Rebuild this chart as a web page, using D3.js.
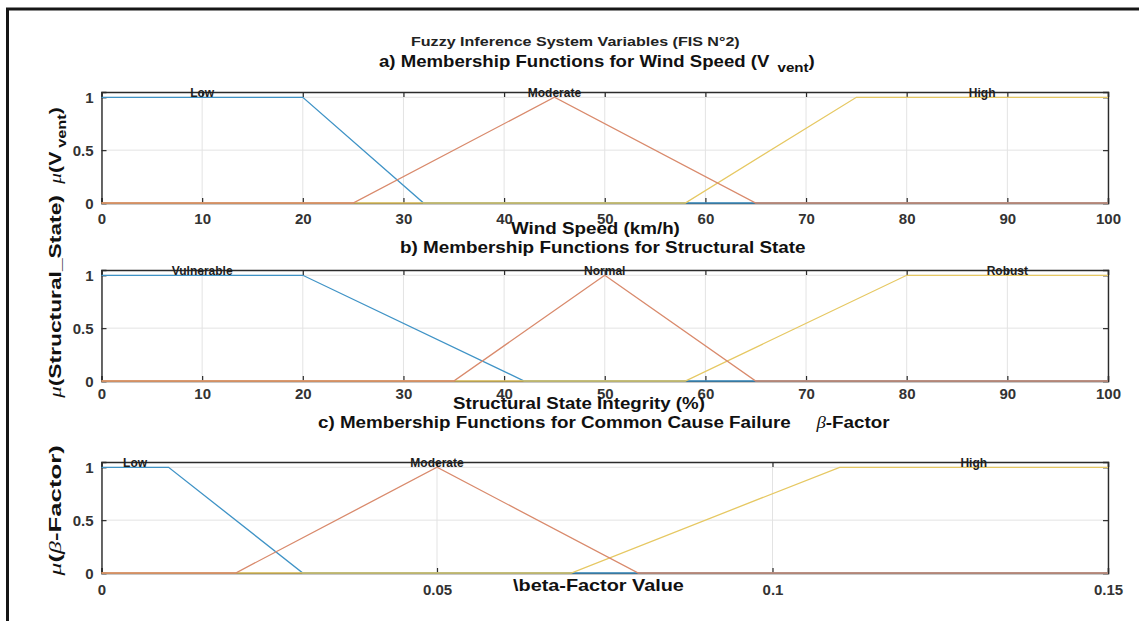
<!DOCTYPE html>
<html>
<head>
<meta charset="utf-8">
<script src="https://cdn.jsdelivr.net/npm/d3@7"></script>
<style>
  body { margin: 0; background: #fff; }
  svg { display: block; }
  text { font-family: "Liberation Sans", Arial, sans-serif; }
</style>
</head>
<body>
<svg id="chart" width="1139" height="621"></svg>
<script>
// ---- data ----
var windTicks = [0, 10, 20, 30, 40, 50, 60, 70, 80, 90, 100];
var windNames = ["Low", "Moderate", "High"];
var windParams = [[0, 0, 20, 32], [25, 45, 65], [58, 75, 100, 100]];

var stateTicks = [0, 10, 20, 30, 40, 50, 60, 70, 80, 90, 100];
var stateNames = ["Vulnerable", "Normal", "Robust"];
var stateParams = [[0, 0, 20, 42], [35, 50, 65], [58, 80, 100, 100]];

var betaTicks = [0, 0.05, 0.1, 0.15];
var betaNames = ["Low", "Moderate", "High"];
var betaParams = [[0, 0, 0.01, 0.03], [0.02, 0.05, 0.08], [0.07, 0.11, 0.15, 0.15]];

var muTicks = [0, 0.5, 1];

var colors = ["#3f93c6", "#d98a6c", "#e6c862"];
var drawOrder = [0, 2, 1];

var svg = d3.select('#chart');
var plotLeft = 101.5, plotRight = 1108;

// frame
svg.append('line').attr('x1', 6).attr('x2', 1139).attr('y1', 9).attr('y2', 9)
  .attr('stroke', '#161616').attr('stroke-width', 3);
svg.append('line').attr('x1', 7.5).attr('x2', 7.5).attr('y1', 8).attr('y2', 621)
  .attr('stroke', '#161616').attr('stroke-width', 3);

// squeeze a text horizontally so it runs from x0 to x1
function fit(t, x0, x1) {
  var bb = t.node().getBBox();
  var s = (x1 - x0) / bb.width;
  t.attr('transform', 'translate(' + (x0 - bb.x * s) + ',0) scale(' + s + ',1)');
}

function mf(p, x) {
  if (p.length == 3) p = [p[0], p[1], p[1], p[2]];
  if (x < p[0] || x > p[3]) return 0;
  if (x >= p[1] && x <= p[2]) return 1;
  if (x < p[1]) return (x - p[0]) / (p[1] - p[0]);
  return (p[3] - x) / (p[3] - p[2]);
}

function panel(cfg) {
  var x = d3.scaleLinear().domain(cfg.domain).range([plotLeft, plotRight]);
  var y = d3.scaleLinear().domain([0, 1.05]).range([cfg.bottom, cfg.top]);
  var g = svg.append('g');

  // grid
  g.selectAll('.gx').data(cfg.ticks).enter().append('line')
    .attr('x1', function (d) { return x(d); }).attr('x2', function (d) { return x(d); })
    .attr('y1', cfg.top).attr('y2', cfg.bottom)
    .attr('stroke', '#e3e3e3').attr('stroke-width', 1);
  g.selectAll('.gy').data(muTicks).enter().append('line')
    .attr('x1', plotLeft).attr('x2', plotRight)
    .attr('y1', function (d) { return y(d); }).attr('y2', function (d) { return y(d); })
    .attr('stroke', '#e3e3e3').attr('stroke-width', 1);

  // axes with inward ticks on all four sides
  var ax = [
    [d3.axisBottom(x).tickValues(cfg.ticks).tickSize(-5).tickFormat(d3.format('')), cfg.bottom, 0],
    [d3.axisTop(x).tickValues(cfg.ticks).tickSize(-5).tickFormat(''), cfg.top, 0],
    [d3.axisLeft(y).tickValues(muTicks).tickSize(-5).tickFormat(d3.format('')), 0, plotLeft],
    [d3.axisRight(y).tickValues(muTicks).tickSize(-5).tickFormat(''), 0, plotRight]
  ];
  ax.forEach(function (a, i) {
    var ag = g.append('g').attr('transform', 'translate(' + a[2] + ',' + a[1] + ')').call(a[0]);
    ag.select('.domain').attr('stroke', '#2b2b2b').attr('stroke-width', 1.4);
    ag.selectAll('.tick line').attr('stroke', '#2b2b2b').attr('stroke-width', 1.2);
    ag.selectAll('.tick text').attr('fill', '#333').attr('font-size', 15).attr('font-weight', 'bold')
      .style('font-family', '"Liberation Sans", Arial, sans-serif');
    if (i == 0) ag.selectAll('.tick text').attr('y', 0).attr('dy', cfg.tickDy);
    if (i == 2) ag.selectAll('.tick text').attr('x', -8).attr('dy', '0.36em');
  });

  // membership functions
  var line = d3.line().x(function (d) { return x(d[0]); }).y(function (d) { return y(d[1]); });
  drawOrder.forEach(function (k) {
    var p = cfg.params[k];
    var xs = [cfg.domain[0], cfg.domain[1]].concat(p)
      .filter(function (v) { return v >= cfg.domain[0] && v <= cfg.domain[1]; });
    xs = Array.from(new Set(xs)).sort(d3.ascending);
    var pts = xs.map(function (v) { return [v, mf(p, v)]; });
    g.append('path').datum(pts).attr('d', line)
      .attr('fill', 'none').attr('stroke', colors[k]).attr('stroke-width', 1.3);
  });

  // names above each set
  cfg.params.forEach(function (p, k) {
    var q = p.length == 3 ? [p[0], p[1], p[1], p[2]] : p;
    var c = (q[1] + q[2]) / 2;
    g.append('text').attr('x', x(c)).attr('y', y(1) - 0.5)
      .attr('text-anchor', 'middle').attr('font-size', 12).attr('font-weight', 'bold')
      .attr('fill', '#1e1e1e').text(cfg.names[k]);
  });

  return g;
}

panel({ domain: [0, 100], ticks: windTicks, params: windParams, names: windNames, top: 92, bottom: 203, tickDy: 21 });
panel({ domain: [0, 100], ticks: stateTicks, params: stateParams, names: stateNames, top: 270, bottom: 381, tickDy: 18 });
panel({ domain: [0, 0.15], ticks: betaTicks, params: betaParams, names: betaNames, top: 462, bottom: 573, tickDy: 22 });

// titles
var t0 = svg.append('text').attr('x', 0).attr('y', 46).attr('font-size', 12).attr('font-weight', 'bold')
  .attr('fill', '#222').text('Fuzzy Inference System Variables (FIS N°2)');
fit(t0, 411, 740);

var ta = svg.append('text').attr('x', 0).attr('y', 67).attr('font-size', 16).attr('font-weight', 'bold').attr('fill', '#111');
ta.append('tspan').text('a) Membership Functions for Wind Speed (V');
ta.append('tspan').attr('dx', 7).attr('dy', 5).attr('font-size', 13).text('vent');
ta.append('tspan').attr('dy', -5).text(')');
fit(ta, 379, 815);

var tb = svg.append('text').attr('x', 0).attr('y', 253).attr('font-size', 16).attr('font-weight', 'bold')
  .attr('fill', '#111').text('b) Membership Functions for Structural State');
fit(tb, 400, 806);

var tc = svg.append('text').attr('x', 0).attr('y', 428).attr('font-size', 16).attr('font-weight', 'bold').attr('fill', '#111');
tc.append('tspan').text('c) Membership Functions for Common Cause Failure');
tc.append('tspan').attr('dx', 22).style('font-family', '"Liberation Serif", serif').attr('font-style', 'italic').attr('font-weight', 'normal').text('β');
tc.append('tspan').text('-Factor');
fit(tc, 318, 890);

// x labels
var xl = [
  ['Wind Speed (km/h)', 511, 680, 234],
  ['Structural State Integrity (%)', 453, 705, 409],
  ['\\beta-Factor Value', 513, 684, 591]
];
xl.forEach(function (d) {
  var t = svg.append('text').attr('x', 0).attr('y', d[3]).attr('font-size', 17).attr('font-weight', 'bold')
    .attr('fill', '#111').text(d[0]);
  fit(t, d[1], d[2]);
});

// y labels (rotated)
function ylabel(cy, len, build) {
  var g = svg.append('g').attr('transform', 'translate(61,' + cy + ') rotate(-90)');
  var t = g.append('text').attr('x', 0).attr('y', 0).attr('font-size', 17).attr('font-weight', 'bold').attr('fill', '#111');
  t.append('tspan').style('font-family', '"Liberation Serif", serif').attr('font-style', 'italic').attr('font-weight', 'normal').text('μ');
  build(t);
  var bb = t.node().getBBox();
  var s = len / bb.width;
  t.attr('transform', 'scale(' + s + ',1) translate(' + (-bb.x - bb.width / 2) + ',0)');
}
ylabel(146, 78, function (t) {
  t.append('tspan').text('(V');
  t.append('tspan').attr('dx', 3).attr('dy', 5).attr('font-size', 13).text('vent');
  t.append('tspan').attr('dy', -5).text(')');
});
ylabel(297, 204, function (t) { t.append('tspan').text('(Structural_State)'); });
ylabel(511, 132, function (t) {
  t.append('tspan').text('(');
  t.append('tspan').style('font-family', '"Liberation Serif", serif').attr('font-style', 'italic').attr('font-weight', 'normal').text('β');
  t.append('tspan').text('-Factor)');
});
</script>
</body>
</html>
